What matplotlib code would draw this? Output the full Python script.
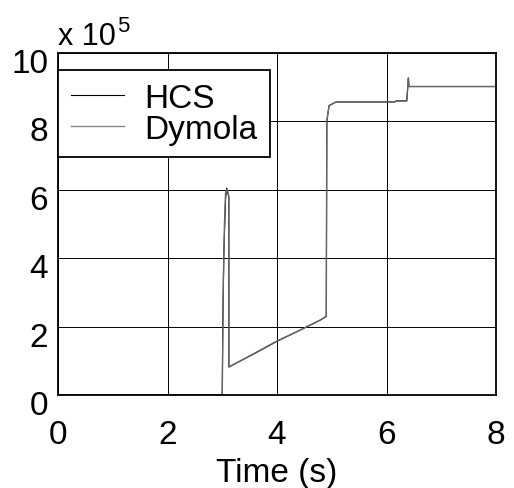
import matplotlib
matplotlib.use("Agg")
import matplotlib.pyplot as plt
import matplotlib.transforms as mtransforms

plt.rcParams['font.family'] = ['Liberation Sans', 'DejaVu Sans']

# data (y in units of 1e5)
hcs_t = [0.0, 3.00, 3.01, 3.03, 3.06, 3.08, 3.12, 3.12, 3.30, 3.60, 4.00,
         4.40, 4.79, 4.90, 4.91, 4.95, 5.08, 5.50, 6.00, 6.15, 6.18, 6.37,
         6.40, 6.41, 7.00, 8.00]
hcs_y = [0.0, 0.0, 2.2, 4.2, 5.7, 6.05, 5.8, 0.82, 0.97, 1.22, 1.57,
         1.88, 2.19, 2.30, 8.00, 8.46, 8.57, 8.57, 8.57, 8.57, 8.60, 8.60,
         9.27, 9.02, 9.02, 9.02]

dym_t = [0.0, 3.00, 3.02, 3.04, 3.06, 3.09, 3.12, 3.12, 3.30, 3.60, 4.00,
         4.40, 4.79, 4.90, 4.91, 4.95, 5.08, 5.50, 6.00, 6.15, 6.18, 6.37,
         6.40, 6.41, 7.00, 8.00]
dym_y = [0.0, 0.0, 3.3, 5.0, 5.9, 6.02, 5.8, 0.82, 0.97, 1.23, 1.58,
         1.88, 2.19, 2.30, 8.00, 8.46, 8.57, 8.57, 8.57, 8.57, 8.60, 8.60,
         9.27, 9.02, 9.02, 9.02]

xticks = [0, 2, 4, 6, 8]
yticks = [0, 2, 4, 6, 8, 10]

fig = plt.figure(figsize=(5.14, 4.89), dpi=100)
ax = fig.add_axes([58/514, 1-396/489, 438/514, 342/489])

ax.plot(hcs_t, hcs_y, color='black', lw=0.8, label='HCS')
ax.plot(dym_t, dym_y, color='#666666', lw=1.0, label='Dymola')

ax.set_xlim(0, 8)
ax.set_ylim(0, 10)
ax.set_xticks(xticks)
ax.set_yticks(yticks)
ax.grid(True, color='black', lw=0.7)
ax.tick_params(length=0, labelsize=24)
ax.tick_params(axis='x', pad=17)
ax.tick_params(axis='y', pad=7)
for s in ax.spines.values():
    s.set_linewidth(1.3)

# matlab-like vertical offset of y labels
off = mtransforms.ScaledTranslation(0, -7/100, fig.dpi_scale_trans)
for lab in ax.get_yticklabels():
    lab.set_transform(lab.get_transform() + off)

ax.set_xlabel('Time (s)', fontsize=24, labelpad=5)

ax.annotate('x 10', xy=(0, 1), xycoords='axes fraction', xytext=(0, 6.5),
            textcoords='offset points', fontsize=22, ha='left', va='baseline')
ax.annotate('5', xy=(0, 1), xycoords='axes fraction', xytext=(42.5, 15.8),
            textcoords='offset points', fontsize=16, ha='left', va='baseline')

leg = ax.legend(loc='upper left', bbox_to_anchor=(0, 0.95), borderaxespad=0,
                fontsize=24, frameon=True, fancybox=False, framealpha=1,
                edgecolor='black', handlelength=1.6, handletextpad=0.6,
                labelspacing=0.0, borderpad=0.38)
leg.get_frame().set_linewidth(1.3)
leg.get_lines()[1].set_color('#888888')

fig.savefig('out.png', dpi=100)
